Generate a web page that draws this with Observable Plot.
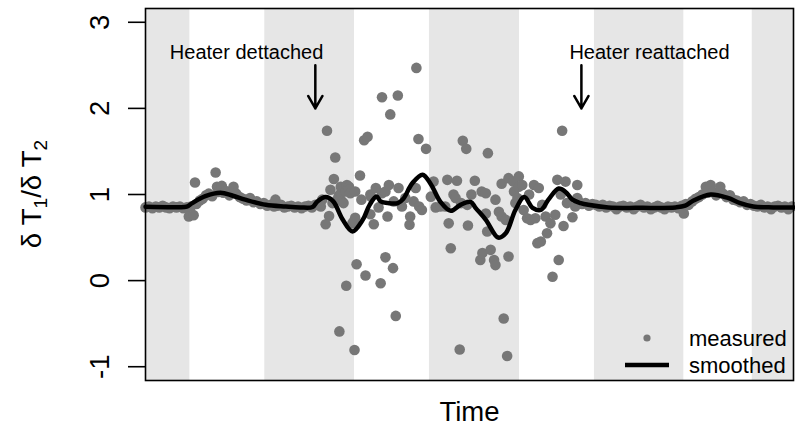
<!DOCTYPE html>
<html>
<head>
<meta charset="utf-8">
<script src="https://cdn.jsdelivr.net/npm/d3@7"></script>
<script src="https://cdn.jsdelivr.net/npm/@observablehq/plot@0.6"></script>
<style>
  body { margin: 0; background: white; }
  #chart { position: relative; width: 795px; height: 428px; }
</style>
</head>
<body>
<div id="chart"></div>
<script>
// ---- data (time in hours, value = dT1/dT2) ----
const nightStart = [0, 17.35, 41.3, 65.3, 88.25];
const nightEnd   = [6.45, 30.4, 54.4, 78.3, 94.25];

const measuredBefore = [
  [0,0.85],[0.5,0.86],[1,0.84],[1.5,0.86],[2,0.85],[2.5,0.87],[3,0.85],[3.5,0.84],[4,0.86],
  [4.5,0.85],[5,0.86],[5.5,0.84],[6,0.85],[6.3,0.745],[6.6,0.86],[7.0,0.76],[7.2,1.14],[7.4,0.89],
  [7.9,0.93],[8.3,0.95],[8.8,0.99],[9.2,1.01],[9.7,0.98],[10.2,1.255],[10.4,1.09],[10.6,1.03],
  [11.1,1.10],[11.3,1.02],[11.7,1.04],[12.2,0.99],[12.8,1.09],[13.2,1.01],[13.7,0.97],[14.2,0.95],
  [14.7,0.93],[15.2,0.96],[15.7,0.91],[16.2,0.92],[16.7,0.89],[17.2,0.90],[17.7,0.87],[18.2,0.88],
  [18.7,0.86],[18.9,0.94],[19.2,0.87],[19.7,0.88],[20.2,0.85],[20.7,0.86],[21.2,0.87],[21.7,0.85],
  [22.2,0.86],[22.7,0.84],[23.2,0.86],[23.7,0.87],[24.2,0.85],[24.7,0.88]
];

const measuredDetached = [
  [25.5,0.86],[25.7,0.94],[26.2,0.655],[26.4,1.74],[26.7,0.75],[26.9,1.055],[27.2,0.90],[27.4,1.18],
  [27.6,1.43],[27.9,0.94],[28.1,0.985],[28.2,-0.59],[28.4,1.015],[28.4,1.09],[28.6,0.92],[28.8,0.90],
  [29.1,1.035],[29.2,-0.06],[29.3,1.11],[29.6,1.09],[29.6,1.055],[29.8,1.015],[30.1,0.665],[30.3,0.69],
  [30.4,-0.805],[30.5,1.035],[30.5,0.73],[30.7,0.19],[31.2,1.22],[31.4,0.94],[31.8,1.63],[32.3,1.67],
  [32.0,0.06],[32.7,1.0],[32.7,0.77],[32.8,0.975],[33.2,0.655],[33.5,1.075],[33.9,0.85],[34.2,-0.03],
  [34.4,1.015],[34.4,2.13],[34.9,0.27],[34.9,1.035],[35.2,0.745],[35.4,1.11],[35.6,1.93],[36.0,0.145],
  [36.1,0.92],[36.4,-0.41],[36.7,2.15],[36.8,1.075],[37.3,0.86],[37.8,0.96],[38.4,0.65],[38.5,0.745],
  [39.0,0.92],[39.3,1.075],[39.4,2.47],[39.7,1.645],[39.8,0.86],[40.2,0.82],[40.8,1.53],[41.5,0.975],
  [41.9,1.15],[42.2,0.85],[42.9,0.86],[43.6,0.86],[43.9,1.17],[44.1,0.665],[44.4,0.375],[44.8,1.0],
  [45.1,0.96],[45.3,1.16],[45.7,-0.80],[45.9,0.90],[46.15,1.625],[46.65,1.53],[46.8,0.88],[46.9,0.64],
  [47.4,1.0],[47.9,1.16],[48.7,0.24],[48.9,1.035],[49.0,0.32],[49.5,0.78],[49.5,1.015],[49.7,0.57],
  [49.8,1.48],[50.2,0.357],[50.7,0.24],[50.9,0.94],[50.9,0.18],[51.4,0.80],[51.8,0.745],[51.8,1.125],
  [52.1,-0.44],[52.4,0.705],[52.6,-0.875],[52.8,1.19],[52.8,0.28],[53.5,1.15],[53.6,1.035],[53.8,0.90],
  [54.1,0.96],[54.3,1.21],[54.3,1.09],[54.8,1.11],[55.0,0.82],[55.5,0.725],[55.8,1.0],[56.0,0.705],
  [56.5,1.11],[56.7,0.725],[57.0,0.435],[57.2,1.075],[57.5,0.455],[57.7,0.88],[58.2,0.745],[58.4,0.55],
  [58.9,0.665],[59.2,0.045],[59.6,0.765],[59.9,1.17],[60.1,0.24],[60.4,1.0],[60.6,1.74],[60.8,0.635],
  [61.1,1.15],[61.3,0.90],[62.1,0.735],[62.5,0.86],[62.8,0.96],[62.8,1.11]
];

const measuredAfter = [
  [63.0,0.92],[63.5,0.89],[64.0,0.90],[64.5,0.87],[65.0,0.89],[65.5,0.88],[66.0,0.86],[66.5,0.88],
  [67.0,0.85],[67.5,0.87],[68.0,0.86],[68.5,0.83],[69.0,0.86],[69.5,0.87],[70.0,0.85],[70.5,0.86],
  [71.0,0.83],[71.5,0.86],[72.0,0.88],[72.5,0.85],[73.0,0.86],[73.5,0.83],[74.0,0.85],[74.5,0.87],
  [75.0,0.85],[75.5,0.83],[76.0,0.86],[76.5,0.85],[77.0,0.86],[77.5,0.84],[78.0,0.87],[78.3,0.78],
  [78.6,0.89],[79.0,0.88],[79.5,0.92],[80.0,0.95],[80.5,0.97],[81.0,1.00],[81.5,1.09],[81.8,1.02],
  [82.2,1.11],[82.5,1.03],[83.0,0.99],[83.6,1.09],[84.0,1.01],[84.5,0.97],[85.0,0.99],[85.5,0.94],
  [86.0,0.93],[86.5,0.91],[87.0,0.92],[87.5,0.88],[88.0,0.89],[88.5,0.87],[89.0,0.86],[89.5,0.88],
  [90.0,0.85],[90.5,0.86],[91.0,0.83],[91.5,0.86],[92.0,0.87],[92.5,0.85],[93.0,0.86],[93.5,0.83],
  [94.0,0.86]
];

const smoothedTime = [0,4.8,6.0,6.8,8.7,10.9,12.7,14.5,17.5,20.4,22.5,24.3,25.0,26.2,27.3,28.7,30.1,
  31.6,32.6,33.6,34.2,35.3,36.7,37.5,38.8,40.3,41.5,42.9,44.4,45.8,47.3,48.0,49.5,51.3,52.4,53.8,55.1,
  56.3,57.5,58.6,60.1,61.1,62.1,63.3,64.4,67.3,72.3,77.1,78.5,79.7,82.2,84.7,86.5,88.4,91.3,94.25];
const smoothedValue = [0.857,0.853,0.86,0.90,0.98,1.02,0.985,0.94,0.88,0.86,0.85,0.855,0.92,0.97,0.92,
  0.706,0.57,0.706,0.88,0.977,0.92,0.90,0.90,0.95,1.13,1.23,1.12,0.915,0.81,0.88,0.915,0.845,0.706,0.50,
  0.55,0.82,0.97,0.845,0.82,0.94,1.07,1.03,0.94,0.90,0.88,0.85,0.845,0.85,0.87,0.93,1.0,0.96,0.90,0.86,
  0.85,0.85];

const yTicks = [-1, 0, 1, 2, 3];
const annotationLabels = ["Heater dettached", "Heater reattached"];
const annotationTime = [14.7, 73.3];
const annotationValue = [2.65, 2.65];
const arrowTime = [24.7, 63.4];
const arrowFrom = [2.5, 2.5];
const arrowTo = [2.0, 2.0];
const legendLabels = ["measured", "smoothed"];

// ---- build ----
const FONT = "'Liberation Sans', Arial, Helvetica, sans-serif";
const measured = [...measuredBefore, ...measuredDetached, ...measuredAfter];
const smoothed = smoothedTime.map((t, i) => ({t, v: smoothedValue[i]}));
const nights = nightStart.map((s, i) => ({s, e: nightEnd[i]}));
const annots = annotationLabels.map((label, i) => ({label, t: annotationTime[i], v: annotationValue[i]}));
const arrows = arrowTime.map((t, i) => ({t, v1: arrowFrom[i], v2: arrowTo[i]}));

const chart = Plot.plot({
  width: 795,
  height: 428,
  marginLeft: 145,
  marginRight: 2,
  marginTop: 8,
  marginBottom: 48,
  style: {fontFamily: FONT, background: "white", color: "black"},
  x: {domain: [0, 94.25], axis: null},
  y: {domain: [-1.16, 3.16]},
  marks: [
    Plot.rect(nights, {x1: "s", x2: "e", fill: "#e6e6e6"}),
    Plot.dot(measured, {x: d => d[0], y: d => d[1], r: 5.3, fill: "#777777"}),
    Plot.line(smoothed, {x: "t", y: "v", stroke: "black", strokeWidth: 4.5, curve: "catmull-rom"}),
    Plot.frame({stroke: "black", strokeWidth: 1.6}),
    Plot.axisY(yTicks, {
      tickSize: 17, tickPadding: 20, tickRotate: -90, fontSize: 27.5,
      strokeWidth: 1.6, label: null, tickFormat: d => String(d)
    }),
    Plot.text(["Time"], {frameAnchor: "bottom", dy: 40, lineAnchor: "bottom", fontSize: 27.5}),
    Plot.text(annots, {x: "t", y: "v", text: "label", fontSize: 20, fill: "black"}),
    Plot.arrow(arrows, {x1: "t", x2: "t", y1: "v1", y2: "v2", stroke: "black", strokeWidth: 2.5, headLength: 18, headAngle: 60})
  ]
});

document.getElementById("chart").appendChild(chart);

const svg = d3.select(chart);
// y-axis title with subscripts
const yl = svg.append("text")
  .attr("transform", "translate(41,194) rotate(-90)")
  .attr("text-anchor", "middle")
  .attr("font-family", FONT)
  .attr("font-size", 27.5)
  .attr("fill", "black");
yl.append("tspan").text("δ T");
yl.append("tspan").attr("font-size", 19).attr("dy", 6).text("1");
yl.append("tspan").attr("dy", -6).text("/δ T");
yl.append("tspan").attr("font-size", 19).attr("dy", 6).text("2");

// legend (inside plot, bottom right, no box)
const lg = svg.append("g").attr("font-family", FONT).attr("font-size", 22).attr("text-anchor", "start");
lg.append("circle").attr("cx", 647).attr("cy", 338).attr("r", 3.6).attr("fill", "#777777");
lg.append("line").attr("x1", 625).attr("x2", 669).attr("y1", 365).attr("y2", 365)
  .attr("stroke", "black").attr("stroke-width", 4.5);
lg.append("text").attr("x", 689).attr("y", 346).attr("text-anchor", "start").text(legendLabels[0]);
lg.append("text").attr("x", 689).attr("y", 373).attr("text-anchor", "start").text(legendLabels[1]);
</script>
</body>
</html>
